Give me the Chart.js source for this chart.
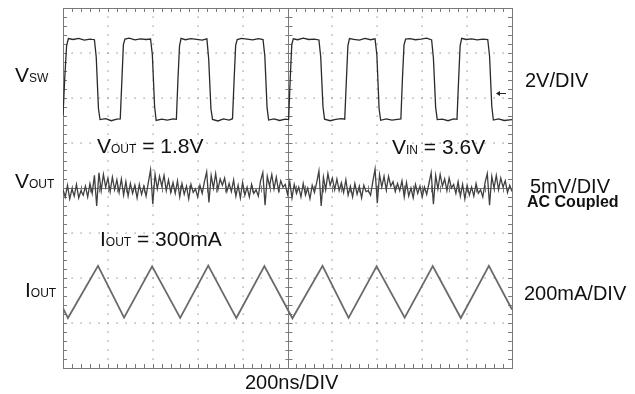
<!DOCTYPE html>
<html>
<head>
<meta charset="utf-8">
<script src="https://cdn.jsdelivr.net/npm/chart.js@4/dist/chart.umd.min.js"></script>
<style>
  html, body { margin: 0; padding: 0; background: #fff; }
  canvas { display: block; }
</style>
</head>
<body>
<canvas id="scope" width="635" height="394"></canvas>
<script>
// ── Scope settings (divisions) ─────────────────────────────────────────────
const xDivs = 10, yDivs = 8, nsPerDiv = 200;

// ── V_SW trace (ns, volts) — 2V/DIV ────────────────────────────────────────
const vswTimeNs = [
  0, 8, 16, 24, 45, 70, 95, 120, 140, 148, 158, 165, 190, 215, 240,
  255, 262, 269, 276, 295, 320, 345, 370, 390, 398, 408, 415, 440, 465, 490,
  505, 512, 519, 526, 545, 570, 595, 620, 641, 649, 659, 666, 690, 715, 740,
  755, 762, 769, 776, 795, 820, 845, 870, 891, 899, 909, 916, 940, 965, 990,
  1005, 1012, 1019, 1026, 1045, 1070, 1095, 1120, 1140, 1148, 1158, 1165, 1190, 1215, 1240,
  1255, 1262, 1269, 1276, 1295, 1320, 1345, 1370, 1390, 1398, 1408, 1415, 1440, 1465, 1490,
  1505, 1512, 1519, 1526, 1545, 1570, 1595, 1620, 1642, 1650, 1660, 1667, 1690, 1715, 1740,
  1755, 1762, 1769, 1776, 1795, 1820, 1845, 1870, 1892, 1900, 1910, 1917, 1940, 1965, 2000
];
const vswVolts = [
  0.2, 1.9, 3.3, 3.62, 3.58, 3.63, 3.55, 3.6, 3.57, 2.8, 0.5, 0.02, 0.06, -0.03, 0.04,
  0.05, 1.7, 3.35, 3.6, 3.64, 3.56, 3.61, 3.58, 3.6, 2.9, 0.6, -0.02, 0.04, 0.0, 0.05,
  0.03, 1.8, 3.3, 3.63, 3.57, 3.62, 3.59, 3.55, 3.61, 2.7, 0.5, 0.03, -0.04, 0.05, 0.0,
  0.06, 1.75, 3.32, 3.58, 3.63, 3.6, 3.56, 3.62, 3.58, 2.85, 0.55, 0.0, 0.05, -0.02, 0.04,
  0.02, 1.8, 3.36, 3.61, 3.57, 3.64, 3.58, 3.6, 3.56, 2.8, 0.6, 0.04, -0.03, 0.03, 0.06,
  0.04, 1.7, 3.3, 3.62, 3.59, 3.55, 3.63, 3.57, 3.61, 2.9, 0.5, -0.01, 0.05, 0.0, 0.03,
  0.05, 1.85, 3.34, 3.6, 3.62, 3.57, 3.6, 3.64, 3.56, 2.75, 0.55, 0.02, 0.04, -0.03, 0.05,
  0.03, 1.75, 3.31, 3.63, 3.58, 3.61, 3.56, 3.6, 3.58, 2.85, 0.6, 0.0, 0.05, -0.02, 0.02
];
const vswZeroDiv = 5.51, vswVoltsPerDiv = 2;

// ── V_OUT ripple (mV, one sample per 10 ns) — 5mV/DIV AC coupled ───────────
const voutStepNs = 10;
const voutMv = [
  -0.2, -1.0, 0.3, -1.2, -0.1, -0.9, 0.4, -1.1, -0.3, -0.8, 0.2, -1.0, 0.5, -0.6, 1.4, -2.0, 1.7, -0.3, 1.5, 0.1, 1.1, -0.4, 1.2, -0.2, 0.9,
  -0.5, 1.0, -0.8, 0.7, -0.9, 0.5, -0.6, 0.3, -1.1, 0.4, -0.7, 0.2, -0.9, 0.6, 2.0, -1.8, 1.5, -0.1, 1.3, 0.2, 1.4, -0.3, 0.9, -0.5, 0.6,
  -0.6, 0.8, -1.0, 0.5, -0.7, 0.2, -1.2, 0.4, -0.5, -0.1, -1.0, 0.3, -0.6, 0.7, 1.8, -1.6, 1.4, 0.0, 1.6, -0.2, 1.0, 0.3, 1.1, -0.4, 0.5,
  -0.4, 0.9, -0.9, 0.3, -1.1, 0.6, -0.8, 0.1, -1.0, 0.4, -0.6, -0.2, -0.9, 0.8, 1.7, -1.9, 1.3, 0.2, 1.5, -0.1, 1.2, -0.3, 0.8, 0.1, 0.4,
  -0.7, 0.7, -1.1, 0.4, -0.6, 0.1, -1.0, 0.5, -0.8, 0.0, -1.2, 0.3, -0.5, 0.6, 1.9, -2.0, 1.2, -0.2, 1.6, 0.3, 1.1, -0.2, 1.0, -0.3, 0.6,
  -0.5, 0.9, -0.8, 0.2, -1.0, 0.5, -0.7, 0.2, -1.1, 0.3, -0.4, -0.3, -0.8, 0.7, 2.1, -1.7, 1.5, 0.1, 1.3, -0.2, 1.3, 0.2, 0.7, -0.4, 0.5,
  -0.3, 0.8, -1.0, 0.6, -0.9, 0.0, -1.1, 0.4, -0.6, 0.2, -1.0, 0.1, -0.7, 0.5, 1.7, -1.8, 1.4, -0.1, 1.5, 0.2, 1.0, -0.3, 1.1, 0.0, 0.4,
  -0.6, 0.7, -0.9, 0.4, -1.2, 0.3, -0.8, 0.1, -0.9, 0.5, -0.6, -0.2, -1.0, 0.6, 1.6, -1.9, 1.3, 0.0, 1.4, -0.2, 1.1, 0.1, 0.8, -0.5, 0.3,
  -0.4
];
const voutZeroDiv = 4, voutMvPerDiv = 5;

// ── I_OUT inductor current (ns, mA) — 200mA/DIV ────────────────────────────
const ioutTimeNs = [0, 22, 156, 272, 397, 522, 647, 772, 897, 1022, 1156, 1272, 1397, 1522, 1647, 1772, 1897, 2000];
const ioutMa     = [228, 184, 416, 186, 414, 185, 417, 184, 415, 183, 416, 185, 414, 186, 415, 184, 416, 222];
const ioutZeroDiv = 0.19, ioutMaPerDiv = 200;

// ── Helpers ────────────────────────────────────────────────────────────────
function toPoints(times, values, zeroDiv, perDiv) {
  return values.map((v, i) => ({ x: times[i], y: zeroDiv + v / perDiv }));
}

function trace(data, color, width) {
  return { data, borderColor: color, borderWidth: width, pointRadius: 0, tension: 0, fill: false };
}

function subText(ctx, x, y, main, sub, rest) {
  ctx.font = '21px "Liberation Sans", Arial, sans-serif';
  ctx.fillText(main, x, y);
  x += ctx.measureText(main).width;
  ctx.font = '12px "Liberation Sans", Arial, sans-serif';
  ctx.fillText(sub, x, y);
  x += ctx.measureText(sub).width;
  if (rest) {
    ctx.font = '21px "Liberation Sans", Arial, sans-serif';
    ctx.fillText(rest, x, y);
  }
}

// ── Graticule: dotted grid, centre cross, frame ticks ──────────────────────
const graticule = {
  id: 'graticule',
  beforeDatasetsDraw(chart) {
    const { ctx, chartArea: a, scales: { x, y } } = chart;
    const gx = i => x.getPixelForValue(i * nsPerDiv);
    const gy = j => y.getPixelForValue(j);
    ctx.save();
    ctx.fillStyle = '#8a8a8a';
    // dotted division lines
    for (let i = 1; i < xDivs; i++) {
      if (i === xDivs / 2) continue;
      for (let m = 1; m < yDivs * 5; m++) ctx.fillRect(Math.round(gx(i)) - 0.5, Math.round(gy(m / 5)) - 0.5, 1.2, 1.2);
    }
    for (let j = 1; j < yDivs; j++) {
      if (j === yDivs / 2) continue;
      for (let m = 1; m < xDivs * 5; m++) ctx.fillRect(Math.round(gx(m / 5)) - 0.5, Math.round(gy(j)) - 0.5, 1.2, 1.2);
    }
    ctx.strokeStyle = '#7a7a7a';
    ctx.lineWidth = 1;
    ctx.beginPath();
    // centre cross
    const cx = Math.round(gx(xDivs / 2)) + 0.5, cy = Math.round(gy(yDivs / 2)) + 0.5;
    ctx.moveTo(cx, a.top); ctx.lineTo(cx, a.bottom);
    ctx.moveTo(a.left, cy); ctx.lineTo(a.right, cy);
    for (let m = 1; m < yDivs * 5; m++) {
      const py = Math.round(gy(m / 5)) + 0.5;
      ctx.moveTo(cx - 3, py); ctx.lineTo(cx + 4, py);
      ctx.moveTo(a.left, py); ctx.lineTo(a.left + 4, py);
      ctx.moveTo(a.right, py); ctx.lineTo(a.right - 4, py);
    }
    for (let m = 1; m < xDivs * 5; m++) {
      const px = Math.round(gx(m / 5)) + 0.5;
      ctx.moveTo(px, cy - 3); ctx.lineTo(px, cy + 4);
      ctx.moveTo(px, a.top); ctx.lineTo(px, a.top + 4);
      ctx.moveTo(px, a.bottom); ctx.lineTo(px, a.bottom - 4);
    }
    ctx.stroke();
    ctx.strokeRect(Math.round(a.left) + 0.5, Math.round(a.top) + 0.5, Math.round(a.width), Math.round(a.height));
    ctx.restore();
  },
  afterDraw(chart) {
    const { ctx } = chart;
    ctx.save();
    ctx.fillStyle = '#111';
    ctx.textBaseline = 'alphabetic';
    // channel names
    subText(ctx, 15, 82, 'V', 'SW');
    subText(ctx, 15, 188, 'V', 'OUT');
    subText(ctx, 25, 297, 'I', 'OUT');
    // operating point
    subText(ctx, 97, 153, 'V', 'OUT', ' = 1.8V');
    subText(ctx, 392, 154, 'V', 'IN', ' = 3.6V');
    subText(ctx, 100, 246, 'I', 'OUT', ' = 300mA');
    // scale factors
    ctx.font = '20px "Liberation Sans", Arial, sans-serif';
    ctx.fillText('2V/DIV', 525, 87);
    ctx.fillText('5mV/DIV', 530, 193);
    ctx.fillText('200mA/DIV', 524, 300);
    ctx.fillText('200ns/DIV', 245, 389);
    ctx.font = 'bold 16px "Liberation Sans", Arial, sans-serif';
    ctx.fillText('AC Coupled', 527, 207);
    // trigger level marker
    ctx.strokeStyle = '#222';
    ctx.lineWidth = 1;
    ctx.beginPath();
    ctx.moveTo(499, 93.5); ctx.lineTo(506, 93.5);
    ctx.stroke();
    ctx.beginPath();
    ctx.moveTo(496, 93.5); ctx.lineTo(500, 91); ctx.lineTo(500, 96); ctx.closePath();
    ctx.fillStyle = '#222';
    ctx.fill();
    ctx.restore();
  }
};

// ── Chart ──────────────────────────────────────────────────────────────────
const voutTimeNs = voutMv.map((_, i) => i * voutStepNs);

new Chart(document.getElementById('scope'), {
  type: 'line',
  data: {
    datasets: [
      trace(toPoints(vswTimeNs, vswVolts, vswZeroDiv, vswVoltsPerDiv), '#2a2a2a', 1.3),
      trace(toPoints(voutTimeNs, voutMv, voutZeroDiv, voutMvPerDiv), '#404040', 1.3),
      trace(toPoints(ioutTimeNs, ioutMa, ioutZeroDiv, ioutMaPerDiv), '#6a6a6a', 1.8),
    ],
  },
  options: {
    responsive: false,
    animation: false,
    layout: { padding: { left: 63, top: 8, right: 123, bottom: 26 } },
    plugins: { legend: { display: false }, tooltip: { enabled: false } },
    scales: {
      x: { type: 'linear', min: 0, max: xDivs * nsPerDiv, display: false },
      y: { type: 'linear', min: 0, max: yDivs, display: false },
    },
  },
  plugins: [graticule],
});
</script>
</body>
</html>
